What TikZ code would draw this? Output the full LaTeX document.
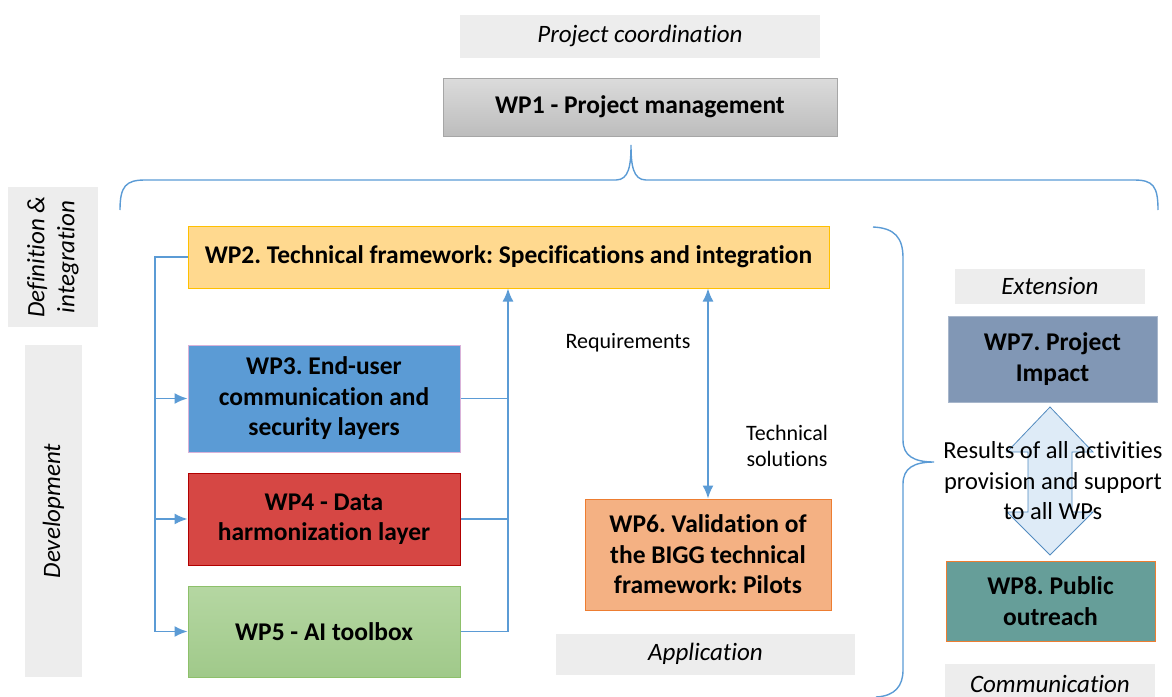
\documentclass[tikz,border=0pt]{standalone}
\usepackage{fontspec}
\setmainfont{Carlito}[Ligatures=NoCommon]
\frenchspacing
\usetikzlibrary{arrows.meta}
\definecolor{lineblue}{HTML}{5B9BD5}
\definecolor{headgrey}{HTML}{EDEDED}
\definecolor{wptwofill}{HTML}{FFD98F}
\definecolor{wptwoline}{HTML}{FFC000}
\definecolor{wpthreefill}{HTML}{5B9BD5}
\definecolor{wpfourfill}{HTML}{D64744}
\definecolor{wpfivetop}{HTML}{B5D7A2}
\definecolor{wpfivebot}{HTML}{A0C98A}
\definecolor{wpfiveline}{HTML}{8DC06A}
\definecolor{wpsixfill}{HTML}{F4B183}
\definecolor{orangeline}{HTML}{ED7D31}
\definecolor{wpsevenfill}{HTML}{8197B5}
\definecolor{wpeightfill}{HTML}{669E99}
\definecolor{arrowfill}{HTML}{DEEBF7}

\begin{document}
\begin{tikzpicture}[x=1pt, y=-1pt,
    wp/.style={draw, line width=1pt, align=center, inner sep=0pt,
      font=\fontsize{25.5}{30.5}\selectfont\bfseries},
    hdr/.style={fill=headgrey, inner sep=0pt,
      font=\fontsize{25}{30}\selectfont\itshape},
    note/.style={align=center, inner sep=0pt, font=\fontsize{22}{26}\selectfont},
    link/.style={draw=lineblue, line width=1.6pt, >={Latex[length=13pt,width=11pt]}},
    brace/.style={draw=lineblue, line width=1.4pt}
  ]
  \useasboundingbox (0,0) rectangle (1172,696);

  % headers
  \node[hdr, minimum width=360, minimum height=43] (coord) at (640,36) {Project coordination};
  \node[hdr, minimum width=140, minimum height=90, rotate=90, align=center,
    font=\fontsize{25}{30}\selectfont\itshape] (defint) at (53,257) {Definition \&\\integration};
  \node[hdr, minimum width=332, minimum height=57, rotate=90] (dev) at (53.5,511) {Development};
  \node[hdr, minimum width=190, minimum height=35] (ext) at (1050,286) {Extension};
  \node[hdr, minimum width=299, minimum height=41] (appl) at (705.5,654) {Application};
  \node[hdr, minimum width=210, minimum height=40, anchor=north] (comm) at (1050,664) {Communication};

  % work packages
  \node[wp, draw=black!35, top color=black!14, bottom color=black!26,
    minimum width=394, minimum height=58] (wp1) at (640,107) {WP1 - Project management};
  \node[wp, draw=wptwoline, fill=wptwofill,
    minimum width=641, minimum height=62] (wp2) at (508.5,257) {WP2. Technical framework: Specifications and integration};
  \node[wp, draw=violet!30, fill=wpthreefill,
    minimum width=272, minimum height=107] (wp3) at (324,398.5) {WP3. End-user\\communication and\\security layers};
  \node[wp, draw=red!70!black, fill=wpfourfill,
    minimum width=272, minimum height=92] (wp4) at (324,519) {WP4 - Data\\harmonization layer};
  \node[wp, draw=wpfiveline, top color=wpfivetop, bottom color=wpfivebot,
    minimum width=272, minimum height=91] (wp5) at (324,631.5) {WP5 - AI toolbox};
  \node[wp, draw=orangeline, fill=wpsixfill,
    minimum width=246, minimum height=111] (wp6) at (708,554.5) {WP6. Validation of\\the BIGG technical\\framework: Pilots};
  \node[wp, draw=wpsevenfill!70!white, fill=wpsevenfill,
    minimum width=209, minimum height=86] (wp7) at (1052.5,359) {WP7. Project\\Impact};
  \node[wp, draw=orangeline, fill=wpeightfill,
    minimum width=209, minimum height=80] (wp8) at (1050.5,601) {WP8. Public\\outreach};

  % braces
  \draw[brace] (120,210) .. controls (120,186) and (126,180) .. (145,180)
    -- (616,180) .. controls (629,180) and (631,165) .. (631,145)
    .. controls (631,165) and (633,180) .. (646,180)
    -- (1134,180) .. controls (1153,180) and (1158,186) .. (1158,210);
  \draw[brace] (873,227) .. controls (895,228) and (903,238) .. (903,258)
    -- (903,440) .. controls (903,456) and (914,462) .. (934,462)
    .. controls (914,462) and (903,468) .. (903,484)
    -- (903,670) .. controls (903,686) and (895,696) .. (876,697);

  % left bus
  \coordinate (lbus) at (155,0);
  \draw[link] (wp2.west) -- (wp2.west -| lbus) -- (wp5.west -| lbus);
  \foreach \w in {wp3,wp4,wp5}
    \draw[link,->] (\w.west -| lbus) -- (\w.west);

  % right bus
  \coordinate (rbus) at (508,0);
  \draw[link,->] (wp5.east) -| (wp2.south -| rbus);
  \draw[link] (wp3.east) -- (wp3.east -| rbus);
  \draw[link] (wp4.east) -- (wp4.east -| rbus);

  % requirements / technical solutions
  \draw[link,<->] (wp6.north |- wp2.south) -- (wp6.north);
  \node[note] (req) at (628,343) {Requirements};
  \node[note, align=center] (tech) at (787,446) {Technical\\solutions};

  % results arrow
  \draw[draw=lineblue!90!black, fill=arrowfill, line width=0.8pt]
    (1050,407) -- (1093,452) -- (1072,452) -- (1072,512) -- (1093,512)
    -- (1050,555) -- (1007,512) -- (1028,512) -- (1028,452) -- (1007,452) -- cycle;
  \node[note, font=\fontsize{24.5}{30.5}\selectfont] (res) at (1053,481)
    {Results of all activities\\provision and support\\to all WPs};
\end{tikzpicture}
\end{document}
